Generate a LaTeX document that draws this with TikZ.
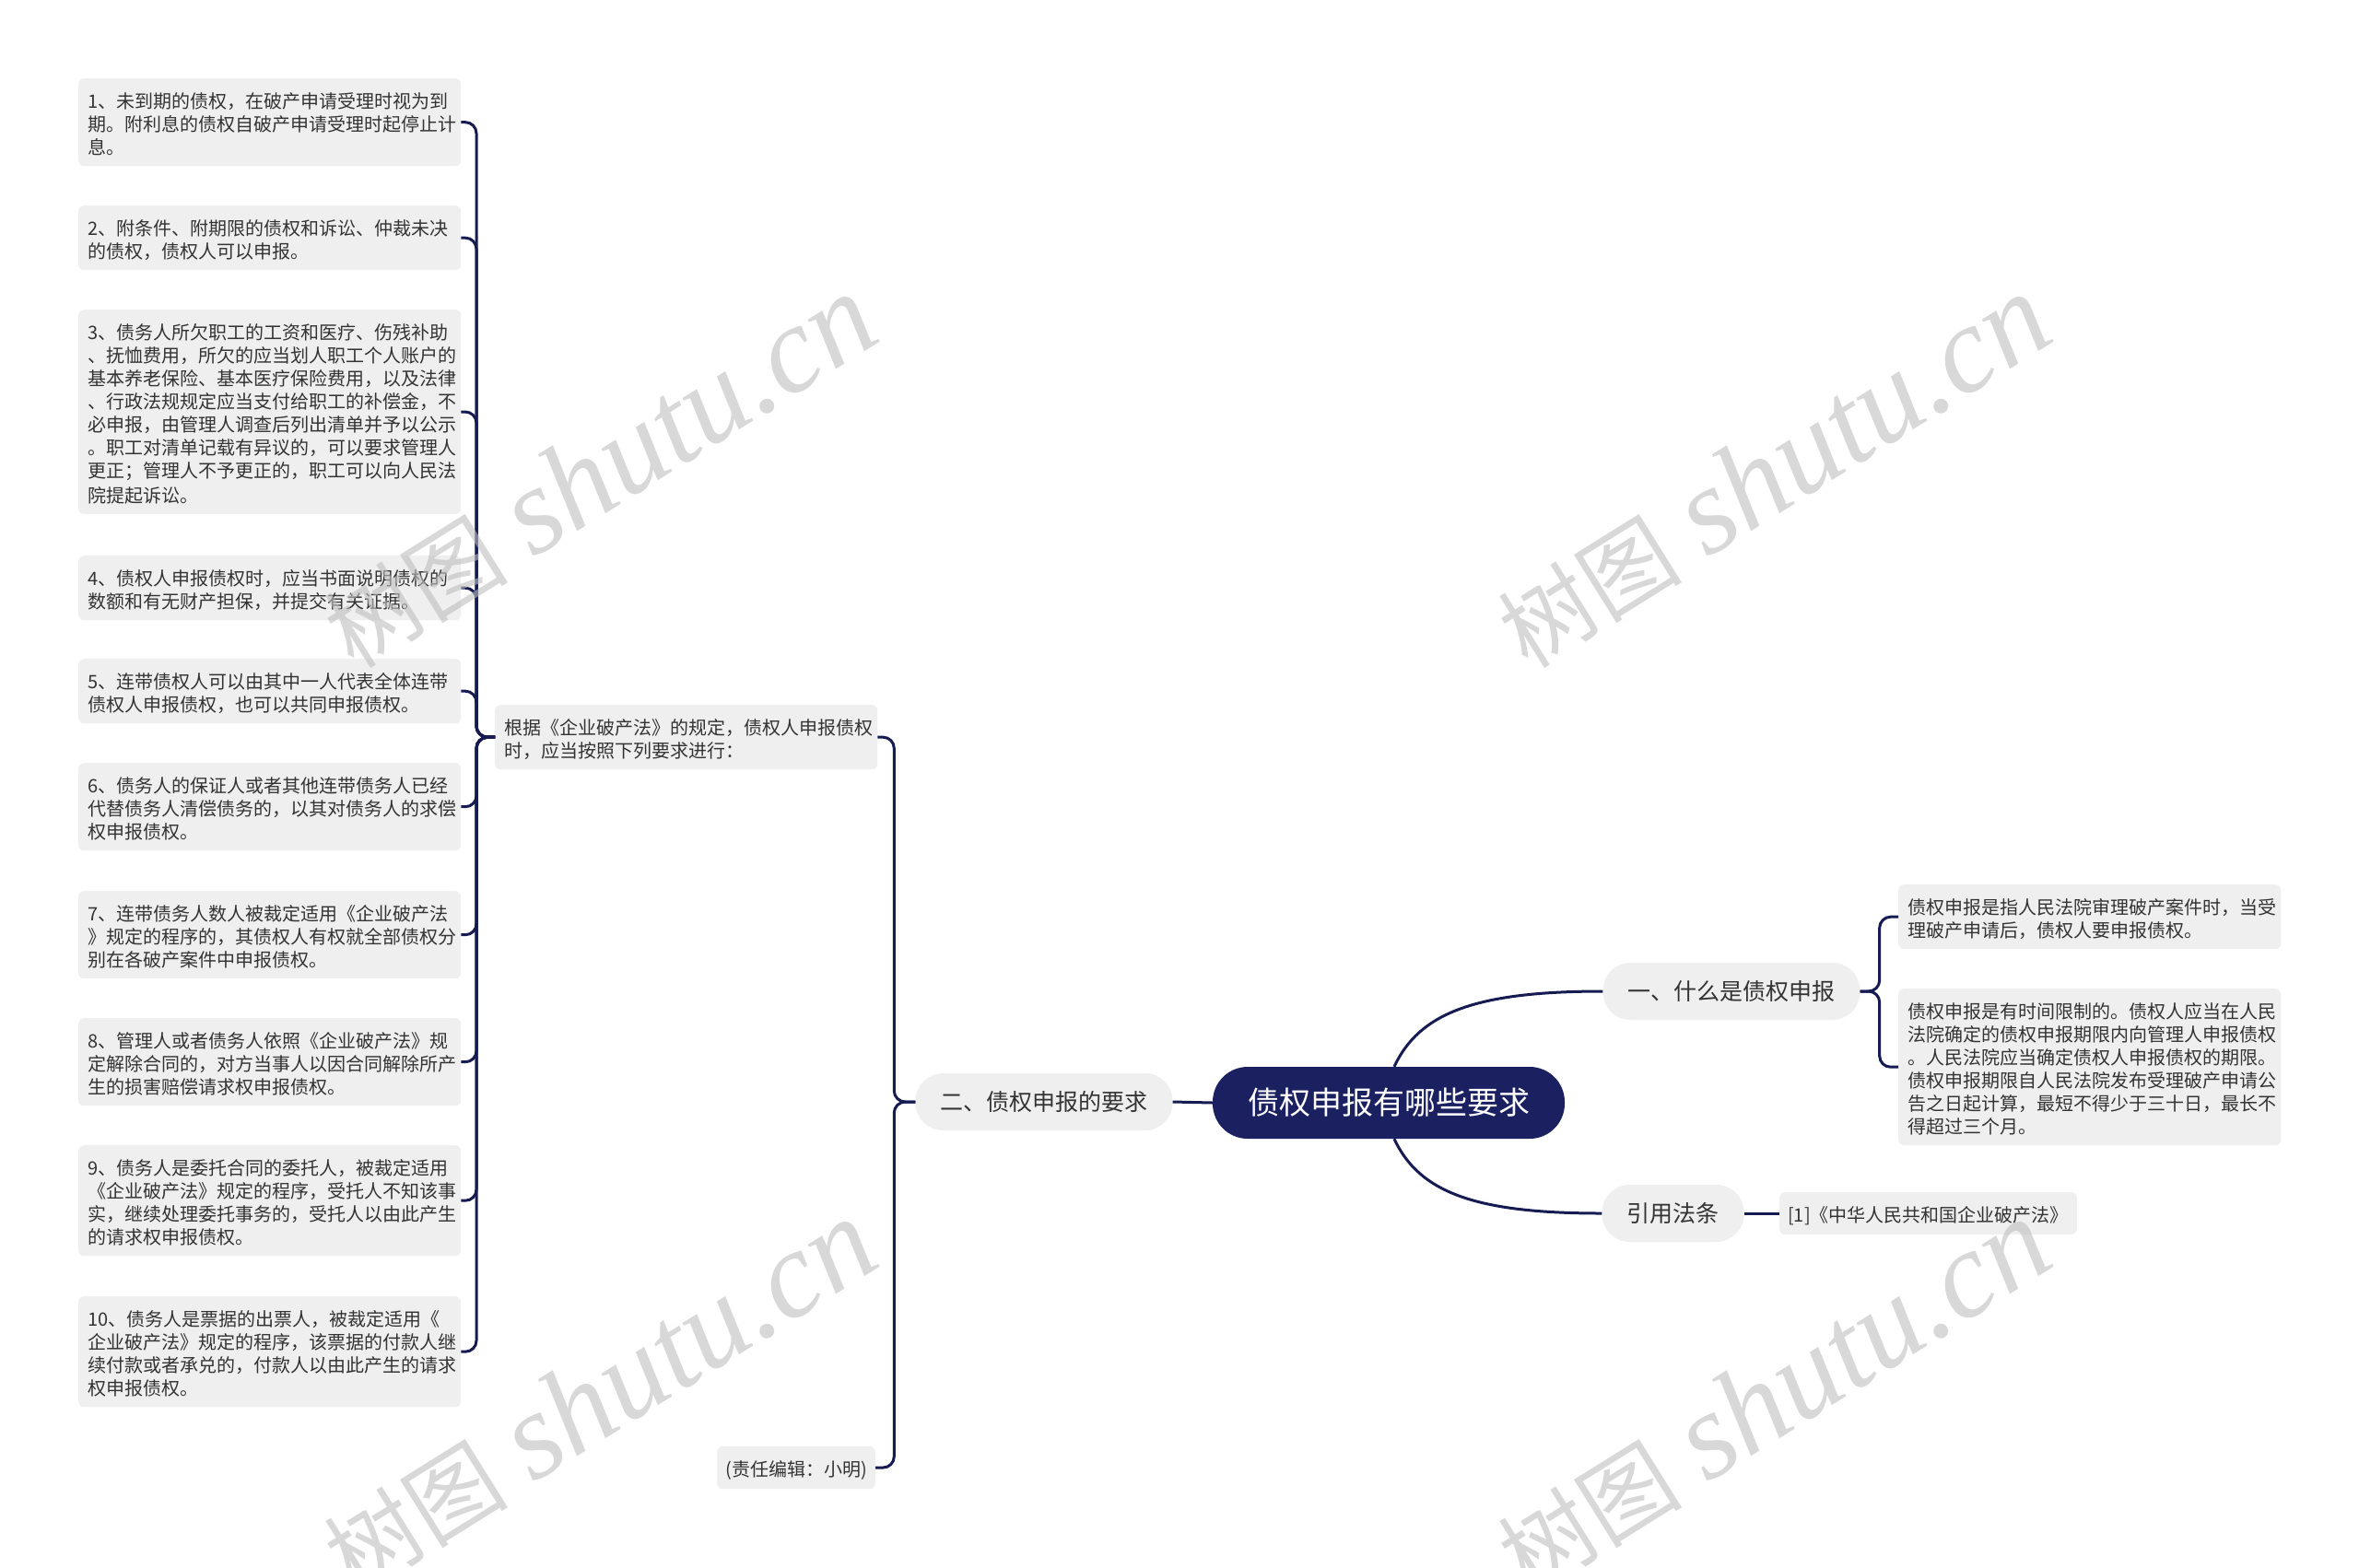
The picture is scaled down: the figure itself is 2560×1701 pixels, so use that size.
\documentclass[tikz,border=0pt]{standalone}
\usepackage{fontspec}
\setmainfont{Noto Sans CJK SC}
\newfontfamily\wmlat{Liberation Serif}
\definecolor{navy}{RGB}{27,33,96}
\definecolor{linec}{RGB}{22,27,82}
\definecolor{boxgray}{RGB}{239,239,239}
\definecolor{txt}{RGB}{51,51,51}
\definecolor{wm}{RGB}{190,190,190}
\newcommand\mystrut{\rule[-2.5pt]{0pt}{25pt}}
\tikzset{
  leaf/.style={rectangle, fill=boxgray, rounded corners=6pt, text width=395pt,
    inner xsep=10pt, inner ysep=10pt, align=left, text=txt,
    font=\fontsize{20}{25}\selectfont,
    execute at begin node=\mystrut, execute at end node=\mystrut},
  leafauto/.style={rectangle, fill=boxgray, rounded corners=6pt,
    inner xsep=9pt, inner ysep=10pt, align=left, text=txt,
    font=\fontsize{20}{25}\selectfont,
    execute at begin node=\mystrut, execute at end node=\mystrut},
  lvlone/.style={rectangle, fill=boxgray, rounded corners=30pt, minimum height=62pt,
    inner xsep=27pt, text=txt, font=\fontsize{25}{30}\selectfont},
  rootnode/.style={rectangle, fill=navy, rounded corners=38pt, minimum height=78pt,
    inner xsep=38pt, text=white, font=\fontsize{34}{40}\selectfont},
  conn/.style={draw=linec, line width=3pt, rounded corners=12pt},
  curv/.style={draw=linec, line width=3pt},
  wmark/.style={text=wm, opacity=0.6, rotate=32, inner sep=0pt}
}
\begin{document}
\begin{tikzpicture}[x=1pt,y=-1pt]
\useasboundingbox (0,0) rectangle (2560,1701);
\fill[white] (0,0) rectangle (2560,1701);

% left leaves
\node[leaf, anchor=north west] (b1) at (85,85) {1、未到期的债权，在破产申请受理时视为到\\期。附利息的债权自破产申请受理时起停止计\\息。};
\node[leaf, anchor=north west] (b2) at (85,223) {2、附条件、附期限的债权和诉讼、仲裁未决\\的债权，债权人可以申报。};
\node[leaf, anchor=north west] (b3) at (85,336) {3、债务人所欠职工的工资和医疗、伤残补助\\、抚恤费用，所欠的应当划人职工个人账户的\\基本养老保险、基本医疗保险费用，以及法律\\、行政法规规定应当支付给职工的补偿金，不\\必申报，由管理人调查后列出清单并予以公示\\。职工对清单记载有异议的，可以要求管理人\\更正；管理人不予更正的，职工可以向人民法\\院提起诉讼。};
\node[leaf, anchor=north west] (b4) at (85,603) {4、债权人申报债权时，应当书面说明债权的\\数额和有无财产担保，并提交有关证据。};
\node[leaf, anchor=north west] (b5) at (85,715) {5、连带债权人可以由其中一人代表全体连带\\债权人申报债权，也可以共同申报债权。};
\node[leaf, anchor=north west] (b6) at (85,828) {6、债务人的保证人或者其他连带债务人已经\\代替债务人清偿债务的，以其对债务人的求偿\\权申报债权。};
\node[leaf, anchor=north west] (b7) at (85,967) {7、连带债务人数人被裁定适用《企业破产法\\》规定的程序的，其债权人有权就全部债权分\\别在各破产案件中申报债权。};
\node[leaf, anchor=north west] (b8) at (85,1105) {8、管理人或者债务人依照《企业破产法》规\\定解除合同的，对方当事人以因合同解除所产\\生的损害赔偿请求权申报债权。};
\node[leaf, anchor=north west] (b9) at (85,1243) {9、债务人是委托合同的委托人，被裁定适用\\《企业破产法》规定的程序，受托人不知该事\\实，继续处理委托事务的，受托人以由此产生\\的请求权申报债权。};
\node[leaf, anchor=north west] (b10) at (85,1407) {10、债务人是票据的出票人，被裁定适用《\\企业破产法》规定的程序，该票据的付款人继\\续付款或者承兑的，付款人以由此产生的请求\\权申报债权。};

% middle
\node[leaf, anchor=north west] (gen) at (537,765) {根据《企业破产法》的规定，债权人申报债权\\时，应当按照下列要求进行：};
\node[leafauto, anchor=east] (edit) at (950,1593) {(责任编辑：小明)};

\node[lvlone] (two) at (1133,1196) {二、债权申报的要求};
\node[rootnode] (root) at (1507,1197) {债权申报有哪些要求};
\node[lvlone] (one) at (1879,1076) {一、什么是债权申报};
\node[lvlone] (cite) at (1815.5,1317) {引用法条};

% right leaves
\node[leaf, anchor=north west] (r1) at (2060,960) {债权申报是指人民法院审理破产案件时，当受\\理破产申请后，债权人要申报债权。};
\node[leaf, anchor=north west] (r2) at (2060,1073) {债权申报是有时间限制的。债权人应当在人民\\法院确定的债权申报期限内向管理人申报债权\\。人民法院应当确定债权人申报债权的期限。\\债权申报期限自人民法院发布受理破产申请公\\告之日起计算，最短不得少于三十日，最长不\\得超过三个月。};
\node[leafauto, anchor=west, minimum width=322pt] (ref) at (1931,1317) {[1]《中华人民共和国企业破产法》};

% connectors: left spine
\foreach \b in {b1,b2,b3,b4,b5,b6,b7,b8,b9,b10}{
  \draw[conn] (gen.west) -- ++(-20,0) |- (\b.east);
}
% second spine
\draw[conn] (two.west) -- ++(-23,0) |- (gen.east);
\draw[conn] (two.west) -- ++(-23,0) |- (edit.east);
% root to two
\draw[curv] (root.west) -- (two.east);
% root to one / cite
\draw[curv] ([xshift=6pt]root.north) .. controls (1540,1100) and (1600,1076) .. (one.west);
\draw[curv] ([xshift=6pt]root.south) .. controls (1540,1294) and (1600,1317) .. (cite.west);
% right spine
\draw[conn] (one.east) -- ++(21,0) |- (r1.west);
\draw[conn] (one.east) -- ++(21,0) |- (r2.west);
\draw[curv] (cite.east) -- (ref.west);

% watermarks
\foreach \p/\n in {{(650,512)}/wa, {(1924,512)}/wb, {(650,1516)}/wc, {(1924,1516)}/wd}{
  \node[wmark] (\n) at \p {{\fontsize{100}{100}\selectfont 树图}\hspace{28pt}{\wmlat\itshape\fontsize{134}{134}\selectfont shutu.cn}};
}
\end{tikzpicture}
\end{document}
